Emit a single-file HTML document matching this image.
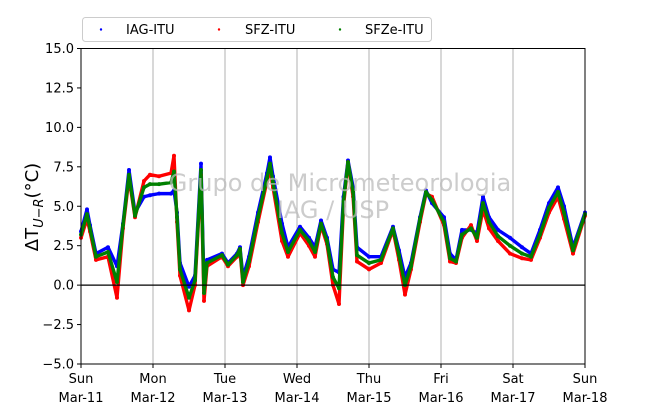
<!DOCTYPE html>
<html><head><meta charset="utf-8"><style>
body{margin:0;background:#fff;}
svg{display:block;font-family:"DejaVu Sans","Liberation Sans",sans-serif;}
</style></head><body>
<svg id="chart" width="650" height="409" viewBox="0 0 650 409">
<g id="grid"></g>
<g id="series"></g>
<g id="axes"></g>
<text x="340" y="191" font-size="24" fill="#bbb" fill-opacity="0.75" text-anchor="middle">Grupo de Micrometeorologia</text>
<text x="333" y="218" font-size="24" fill="#bbb" fill-opacity="0.75" text-anchor="middle">IAG / USP</text>
<g>
<rect x="82.5" y="17.5" width="349" height="24" rx="3" fill="#fff" stroke="#ccc"/>
<g><circle cx="101" cy="29.5" r="1.2" fill="blue"/><text x="126" y="34" font-size="13">IAG-ITU</text></g>
<g><circle cx="219" cy="29.5" r="1.2" fill="red"/><text x="245" y="34" font-size="13">SFZ-ITU</text></g>
<g><circle cx="340" cy="29.5" r="1.2" fill="green"/><text x="365" y="34" font-size="13">SFZe-ITU</text></g>
</g>
<text transform="translate(38,207) rotate(-90)" font-size="18" text-anchor="middle">ΔT<tspan font-size="13" dy="5" font-style="italic">U−R</tspan><tspan dy="-5">(°C)</tspan></text>
</svg>
<script>
const hours = [0,2,3,5,9,12,14,16,18,21,23,26,30,31,32,33,36,38,40,41,42,47,49,52,53,54,56,59,62,63,64,67,69,73,76,78,80,82,84,86,87.5,89,90.7,92,96,100,104,106,108,110,113,115,117,121,123,125,127,130,132,134,136,139,143,147,150,153,156,159,161,164,168];
const iag  = [3.4,4.8,3.8,2.0,2.4,1.2,3.9,7.3,4.6,5.6,5.7,5.8,5.8,6.0,4.6,1.4,-0.1,0.6,7.7,-0.1,1.6,2.0,1.4,2.0,2.4,0.5,1.8,4.6,7.1,8.1,6.9,3.9,2.4,3.7,3.0,2.4,4.1,3.0,1.0,0.8,5.6,7.9,6.2,2.4,1.8,1.8,3.7,2.2,0.5,1.4,4.3,6.0,5.2,4.3,2.0,1.6,3.5,3.5,3.3,5.6,4.3,3.5,3.0,2.4,2.0,3.5,5.2,6.2,5.0,2.4,4.6];
const sfz  = [3.0,4.2,3.4,1.6,1.8,-0.8,3.6,6.8,4.3,6.6,7.0,6.9,7.1,8.2,4.0,0.6,-1.6,0.0,7.0,-1.0,1.2,1.8,1.2,1.8,2.2,0.0,1.2,4.0,6.6,7.4,6.2,2.8,1.8,3.3,2.5,1.8,3.8,2.6,0.0,-1.2,5.0,7.8,5.6,1.5,1.0,1.4,3.5,1.6,-0.6,1.0,4.0,5.8,5.6,3.8,1.5,1.4,3.0,3.8,2.8,4.8,3.6,2.8,2.0,1.7,1.6,3.0,4.6,5.6,4.2,2.0,4.4];
const sfze = [3.2,4.5,3.6,1.8,2.1,0.2,3.8,7.0,4.4,6.2,6.4,6.4,6.5,7.2,4.3,1.0,-0.8,0.3,7.3,-0.5,1.4,1.9,1.3,1.9,2.3,0.2,1.5,4.3,6.8,7.7,6.5,3.3,2.1,3.5,2.8,2.1,3.9,2.8,0.5,-0.2,5.3,7.8,5.9,1.9,1.4,1.6,3.6,1.9,0.0,1.2,4.2,5.9,5.4,4.0,1.7,1.5,3.2,3.6,3.0,5.2,4.0,3.1,2.5,2.0,1.8,3.2,4.9,5.9,4.6,2.2,4.5];
const yTicks = [-5.0,-2.5,0.0,2.5,5.0,7.5,10.0,12.5,15.0];
const xTickHours = [0,24,48,72,96,120,144,168];
const xTickDay = ["Sun","Mon","Tue","Wed","Thu","Fri","Sat","Sun"];
const xTickDate = ["Mar-11","Mar-12","Mar-13","Mar-14","Mar-15","Mar-16","Mar-17","Mar-18"];

const L=81,R=585,T=48.5,B=364;
const xs=h=>L+(R-L)*h/168;
const ys=v=>B-(B-T)*(v+5)/20;
const NS="http://www.w3.org/2000/svg";
function mk(tag,attrs,parent){const e=document.createElementNS(NS,tag);for(const k in attrs)e.setAttribute(k,attrs[k]);parent.appendChild(e);return e;}
const grid=document.getElementById('grid'),ser=document.getElementById('series'),ax=document.getElementById('axes');
xTickHours.forEach((h,i)=>{
  if(i>0&&i<xTickHours.length-1){const g=mk('line',{x1:xs(h),x2:xs(h),y1:T,y2:B,stroke:'#b0b0b0','stroke-width':1},grid);
  
  }
  const tk=mk('line',{x1:xs(h),x2:xs(h),y1:B,y2:B+4,stroke:'#000'},ax);
  
  
  const t1=mk('text',{x:xs(h),y:B+19,'font-size':13,'text-anchor':'middle'},ax);t1.textContent=xTickDay[i];
  
  
  const t2=mk('text',{x:xs(h),y:B+38,'font-size':13,'text-anchor':'middle'},ax);t2.textContent=xTickDate[i];
  
  
});
yTicks.forEach(v=>{
  const tk=mk('line',{x1:L-4,x2:L,y1:ys(v),y2:ys(v),stroke:'#000'},ax);
  
  
  const t=mk('text',{x:L-7,y:ys(v)+4.5,'font-size':13,'text-anchor':'end'},ax);
  t.textContent=(v<0?'−':'')+Math.abs(v).toFixed(1);
  
  
});
const zero=mk('line',{x1:L,x2:R,y1:ys(0),y2:ys(0),stroke:'#000','stroke-width':1.3},ax);


const frame=mk('rect',{x:L,y:T,width:R-L,height:B-T,fill:'none',stroke:'#000','stroke-width':1},ax);


function drawSeries(vals,color,name){
  const g=mk('g',{},ser);
  
  
  const pts=hours.map((h,i)=>xs(h)+','+ys(vals[i])).join(' ');
  const pl=mk('polyline',{points:pts,fill:'none',stroke:color,'stroke-width':3.4,'stroke-linejoin':'round'},g);
  
  
  hours.forEach((h,i)=>{const c=mk('circle',{cx:xs(h),cy:ys(vals[i]),r:2,fill:color},g);
    
    });
}
drawSeries(iag,'blue','series-iag-itu');
drawSeries(sfz,'red','series-sfz-itu');
drawSeries(sfze,'green','series-sfze-itu');
</script>
</body></html>
